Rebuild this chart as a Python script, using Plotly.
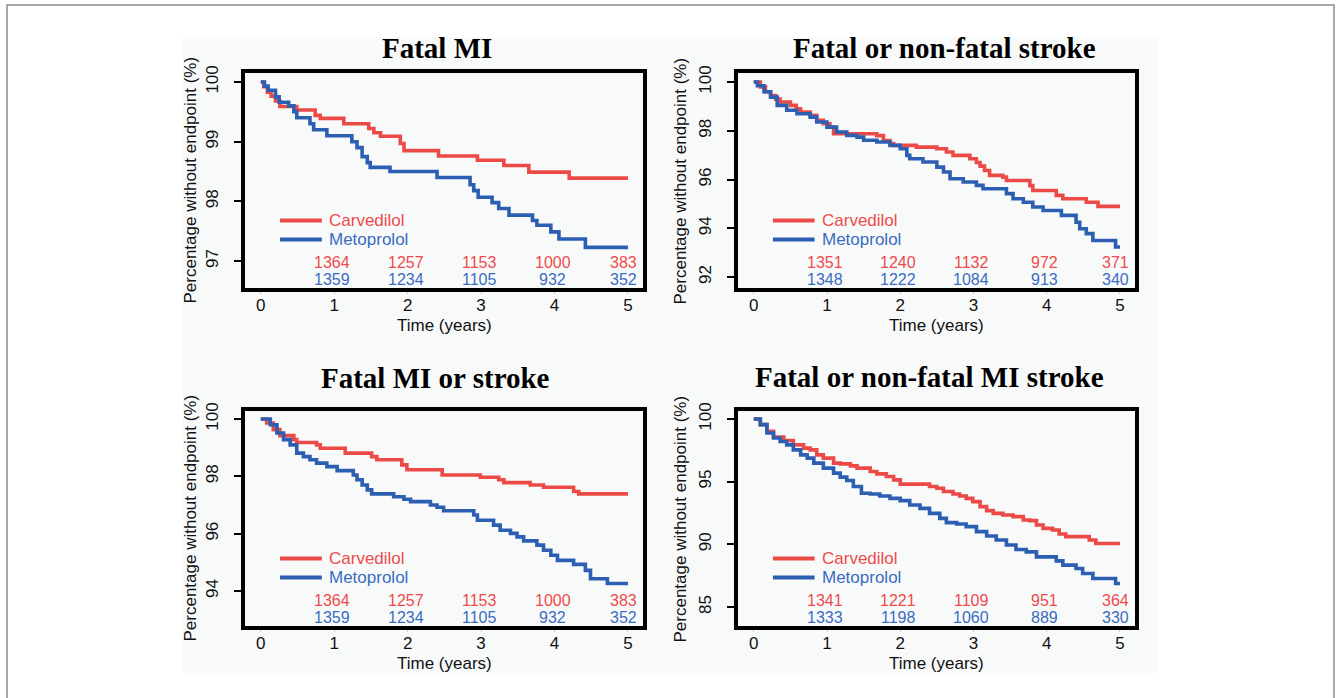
import plotly.graph_objects as go

# ---------------- data ----------------
titles = ["Fatal MI", "Fatal or non-fatal stroke", "Fatal MI or stroke", "Fatal or non-fatal MI stroke"]
series_names = ["Carvedilol", "Metoprolol"]

# Panel 1: Fatal MI
p1_carv_t = [0, 0.04, 0.09, 0.14, 0.2, 0.26, 0.49, 0.74, 0.81, 1.13, 1.47, 1.54, 1.63, 1.9, 1.95, 2.42, 2.95, 3.31, 3.65, 4.2, 5.0]
p1_carv_s = [100, 99.92, 99.83, 99.76, 99.68, 99.59, 99.53, 99.44, 99.39, 99.30, 99.22, 99.15, 99.09, 98.97, 98.85, 98.76, 98.69, 98.60, 98.49, 98.39, 98.39]
p1_meto_t = [0, 0.05, 0.1, 0.2, 0.25, 0.38, 0.45, 0.49, 0.67, 0.72, 0.9, 1.24, 1.31, 1.38, 1.45, 1.49, 1.76, 2.4, 2.85, 2.9, 2.96, 3.15, 3.24, 3.38, 3.7, 3.76, 3.95, 4.06, 4.42, 5.0]
p1_meto_s = [100, 99.93, 99.86, 99.75, 99.66, 99.6, 99.5, 99.4, 99.3, 99.2, 99.1, 99.0, 98.9, 98.75, 98.65, 98.57, 98.5, 98.4, 98.28, 98.18, 98.07, 97.98, 97.88, 97.77, 97.68, 97.6, 97.49, 97.37, 97.23, 97.23]

# Panel 2: Fatal or non-fatal stroke
p2_carv_t = [0, 0.09, 0.16, 0.23, 0.3, 0.36, 0.5, 0.58, 0.64, 0.77, 0.86, 0.95, 1.04, 1.09, 1.68, 1.77, 1.86, 1.91, 2.22, 2.5, 2.63, 2.72, 2.95, 3.04, 3.09, 3.15, 3.22, 3.4, 3.45, 3.77, 3.81, 4.13, 4.22, 4.54, 4.7, 5.0]
p2_carv_s = [100, 99.8, 99.6, 99.45, 99.3, 99.18, 99.04, 98.9, 98.77, 98.63, 98.43, 98.29, 98.15, 97.88, 97.8, 97.6, 97.48, 97.4, 97.33, 97.26, 97.13, 96.99, 96.85, 96.7, 96.55, 96.37, 96.17, 96.1, 95.96, 95.75, 95.55, 95.35, 95.21, 95.07, 94.9, 94.9]
p2_meto_t = [0, 0.05, 0.14, 0.23, 0.32, 0.45, 0.59, 0.77, 0.86, 1.0, 1.13, 1.27, 1.41, 1.5, 1.68, 1.86, 2.0, 2.09, 2.13, 2.31, 2.5, 2.59, 2.68, 2.86, 3.04, 3.13, 3.45, 3.54, 3.68, 3.81, 3.95, 4.2, 4.4, 4.45, 4.54, 4.63, 4.94, 5.0]
p2_meto_s = [100, 99.85, 99.6, 99.38, 99.04, 98.84, 98.7, 98.56, 98.36, 98.15, 97.95, 97.81, 97.74, 97.61, 97.54, 97.4, 97.26, 96.99, 96.85, 96.72, 96.51, 96.31, 96.03, 95.9, 95.76, 95.62, 95.42, 95.21, 95.07, 94.87, 94.73, 94.53, 94.25, 93.98, 93.78, 93.5, 93.23, 93.23]

# Panel 3: Fatal MI or stroke
p3_carv_t = [0, 0.08, 0.17, 0.26, 0.45, 0.49, 0.76, 0.81, 1.15, 1.51, 1.58, 1.92, 1.99, 2.47, 2.99, 3.24, 3.31, 3.67, 3.85, 4.26, 4.33, 5.0]
p3_carv_s = [100, 99.86, 99.63, 99.42, 99.28, 99.18, 99.10, 98.98, 98.81, 98.69, 98.58, 98.40, 98.23, 98.05, 97.97, 97.88, 97.78, 97.70, 97.62, 97.47, 97.39, 97.39]
p3_meto_t = [0, 0.13, 0.22, 0.31, 0.4, 0.49, 0.58, 0.67, 0.76, 0.9, 1.04, 1.26, 1.31, 1.38, 1.45, 1.51, 1.81, 1.95, 2.04, 2.31, 2.4, 2.49, 2.9, 2.95, 3.17, 3.26, 3.4, 3.49, 3.58, 3.76, 3.85, 3.95, 4.04, 4.26, 4.42, 4.49, 4.72, 5.0]
p3_meto_s = [100, 99.8, 99.51, 99.28, 99.1, 98.81, 98.69, 98.58, 98.46, 98.34, 98.2, 98.05, 97.88, 97.7, 97.53, 97.39, 97.29, 97.2, 97.12, 97.0, 96.92, 96.8, 96.65, 96.47, 96.3, 96.12, 96.01, 95.89, 95.75, 95.6, 95.42, 95.25, 95.07, 94.93, 94.72, 94.43, 94.26, 94.26]

# Panel 4: Fatal or non-fatal MI stroke
p4_carv_t = [0, 0.09, 0.18, 0.27, 0.41, 0.54, 0.68, 0.77, 0.86, 0.95, 1.09, 1.18, 1.32, 1.41, 1.59, 1.68, 1.81, 1.91, 2.0, 2.4, 2.5, 2.59, 2.72, 2.81, 2.9, 2.99, 3.09, 3.18, 3.27, 3.4, 3.54, 3.68, 3.77, 3.86, 3.95, 4.08, 4.17, 4.26, 4.58, 4.67, 5.0]
p4_carv_s = [100, 99.55, 99.01, 98.56, 98.29, 97.94, 97.68, 97.54, 97.14, 96.88, 96.48, 96.42, 96.26, 96.08, 95.81, 95.62, 95.41, 95.14, 94.8, 94.61, 94.48, 94.21, 94.02, 93.86, 93.67, 93.41, 93.01, 92.69, 92.47, 92.34, 92.21, 91.94, 91.89, 91.54, 91.27, 91.14, 90.82, 90.61, 90.34, 90.07, 90.07]
p4_meto_t = [0, 0.09, 0.18, 0.27, 0.36, 0.45, 0.54, 0.64, 0.73, 0.82, 0.95, 1.09, 1.18, 1.27, 1.36, 1.47, 1.59, 1.72, 1.86, 2.0, 2.13, 2.27, 2.4, 2.54, 2.63, 2.77, 2.9, 3.04, 3.18, 3.31, 3.45, 3.58, 3.72, 3.86, 4.13, 4.22, 4.4, 4.49, 4.63, 4.94, 5.0]
p4_meto_s = [100, 99.55, 98.88, 98.48, 98.21, 97.94, 97.54, 97.14, 96.88, 96.48, 96.08, 95.68, 95.36, 95.09, 94.61, 94.08, 94.02, 93.86, 93.67, 93.49, 93.14, 92.87, 92.47, 92.07, 91.73, 91.62, 91.41, 91.01, 90.66, 90.34, 89.94, 89.59, 89.4, 89.0, 88.68, 88.34, 88.07, 87.67, 87.27, 86.87, 86.87]

# Numbers at risk at years 1..5
risk_years = [1, 2, 3, 4, 5]
p1_risk_carv = [1364, 1257, 1153, 1000, 383]
p1_risk_meto = [1359, 1234, 1105, 932, 352]
p2_risk_carv = [1351, 1240, 1132, 972, 371]
p2_risk_meto = [1348, 1222, 1084, 913, 340]
p3_risk_carv = [1364, 1257, 1153, 1000, 383]
p3_risk_meto = [1359, 1234, 1105, 932, 352]
p4_risk_carv = [1341, 1221, 1109, 951, 364]
p4_risk_meto = [1333, 1198, 1060, 889, 330]

x_ticks = [0, 1, 2, 3, 4, 5]
p1_yticks = [97, 98, 99, 100]
p2_yticks = [92, 94, 96, 98, 100]
p3_yticks = [94, 96, 98, 100]
p4_yticks = [85, 90, 95, 100]

# ---------------- styling / layout ----------------
W, H = 1339, 698
RED = "#ec4a46"
BLUE = "#2c5fb2"
RED_TXT = "#ee4a4c"
BLUE_TXT = "#3a6cc2"
SANS = "Liberation Sans, Arial, sans-serif"
SERIF = "Liberation Serif, Times New Roman, serif"


def px(x):
    return x / W


def py(y):
    return 1 - y / H


panels = [
    dict(title=titles[0], ct=p1_carv_t, cs=p1_carv_s, mt=p1_meto_t, ms=p1_meto_s,
         rc=p1_risk_carv, rm=p1_risk_meto, yt=p1_yticks, yr=[96.55, 100.15],
         box=(245, 643, 73, 288), title_pos=(437, 48), ytitle_x=190, xtitle_y=325),
    dict(title=titles[1], ct=p2_carv_t, cs=p2_carv_s, mt=p2_meto_t, ms=p2_meto_s,
         rc=p2_risk_carv, rm=p2_risk_meto, yt=p2_yticks, yr=[91.55, 100.37],
         box=(738, 1135, 73, 288), title_pos=(944, 48), ytitle_x=680, xtitle_y=325),
    dict(title=titles[2], ct=p3_carv_t, cs=p3_carv_s, mt=p3_meto_t, ms=p3_meto_s,
         rc=p3_risk_carv, rm=p3_risk_meto, yt=p3_yticks, yr=[92.78, 100.28],
         box=(245, 643, 411, 626), title_pos=(435, 378), ytitle_x=190, xtitle_y=663),
    dict(title=titles[3], ct=p4_carv_t, cs=p4_carv_s, mt=p4_meto_t, ms=p4_meto_s,
         rc=p4_risk_carv, rm=p4_risk_meto, yt=p4_yticks, yr=[83.48, 100.64],
         box=(738, 1135, 411, 626), title_pos=(929, 377), ytitle_x=680, xtitle_y=663),
]

fig = go.Figure()
annotations = []
shapes = []

# outer frame and faint figure background
shapes.append(dict(type="rect", xref="paper", yref="paper", x0=px(183), x1=px(1158), y0=py(673), y1=py(37),
                   fillcolor="#f8fafa", line=dict(width=0), layer="below"))
shapes.append(dict(type="rect", xref="paper", yref="paper", x0=px(7), x1=px(1334), y0=-0.05, y1=py(5),
                   fillcolor="rgba(0,0,0,0)", line=dict(color="#8c8c8c", width=1.5), layer="below"))

for i, p in enumerate(panels, start=1):
    xa = "x" if i == 1 else f"x{i}"
    ya = "y" if i == 1 else f"y{i}"
    xl, xr, yt_, yb = p["box"]

    fig.add_trace(go.Scatter(x=p["ct"], y=p["cs"], mode="lines", line=dict(color=RED, width=3.6, shape="hv"),
                             name=series_names[0], xaxis=xa, yaxis=ya, showlegend=False))
    fig.add_trace(go.Scatter(x=p["mt"], y=p["ms"], mode="lines", line=dict(color=BLUE, width=3.6, shape="hv"),
                             name=series_names[1], xaxis=xa, yaxis=ya, showlegend=False))

    axis_common = dict(showgrid=False, zeroline=False, showline=True, mirror=True,
                       linecolor="black", linewidth=3.5, automargin=False,
                       tickfont=dict(family=SANS, size=17, color="#111"))
    xaxis = dict(axis_common, domain=[px(xl), px(xr)], range=[-0.215, 5.205], tickvals=x_ticks,
                 ticks="outside", ticklen=2, tickwidth=1, tickcolor="#c8c8c8", anchor=ya,
                 ticklabelstandoff=-3)
    yaxis = dict(axis_common, domain=[py(yb), py(yt_)], range=p["yr"], tickvals=p["yt"],
                 ticks="outside", ticklen=7, tickwidth=2, tickcolor="black", tickangle=-90, anchor=xa,
                 ticklabelstandoff=9)
    key = "" if i == 1 else str(i)
    fig.update_layout(**{f"xaxis{key}": xaxis, f"yaxis{key}": yaxis})

    # title
    annotations.append(dict(text=f"<b>{p['title']}</b>", x=px(p["title_pos"][0]), y=py(p["title_pos"][1]),
                            xref="paper", yref="paper", showarrow=False, xanchor="center", yanchor="middle",
                            font=dict(family=SERIF, size=29, color="black")))
    # y title
    annotations.append(dict(text="Percentage without endpoint (%)", x=px(p["ytitle_x"]), y=py((yt_ + yb) / 2),
                            xref="paper", yref="paper", showarrow=False, textangle=-90,
                            xanchor="center", yanchor="middle", font=dict(family=SANS, size=17, color="#111")))
    # x title
    annotations.append(dict(text="Time (years)", x=px((xl + xr) / 2), y=py(p["xtitle_y"]),
                            xref="paper", yref="paper", showarrow=False,
                            xanchor="center", yanchor="middle", font=dict(family=SANS, size=17, color="#111")))

    # numbers at risk
    for yr_, cv, mv in zip(risk_years, p["rc"], p["rm"]):
        last = yr_ == risk_years[-1]
        for val, col, shift in ((cv, RED_TXT, 26.5), (mv, BLUE_TXT, 9)):
            annotations.append(dict(text=str(val), x=yr_, y=0, xref=xa, yref=f"{ya} domain",
                                    showarrow=False, xanchor="right" if last else "center", yanchor="middle",
                                    xshift=10 if last else -2, yshift=shift, height=14, borderpad=0,
                                    font=dict(family=SANS, size=16, color=col)))

    # in-plot legend
    for name, col, tcol, ydom in ((series_names[0], RED, RED_TXT, 0.314), (series_names[1], BLUE, BLUE_TXT, 0.226)):
        shapes.append(dict(type="line", xref=f"{xa} domain", yref=f"{ya} domain", x0=0.088, x1=0.193,
                           y0=ydom, y1=ydom, line=dict(color=col, width=4)))
        annotations.append(dict(text=name, x=0.207, y=ydom, xref=f"{xa} domain", yref=f"{ya} domain",
                                showarrow=False, xanchor="left", yanchor="middle",
                                font=dict(family=SANS, size=17, color=tcol)))

fig.update_layout(width=W, height=H, margin=dict(l=0, r=0, t=0, b=0),
                  paper_bgcolor="white", plot_bgcolor="white",
                  annotations=annotations, shapes=shapes, showlegend=False)

fig.write_html("out.html")
